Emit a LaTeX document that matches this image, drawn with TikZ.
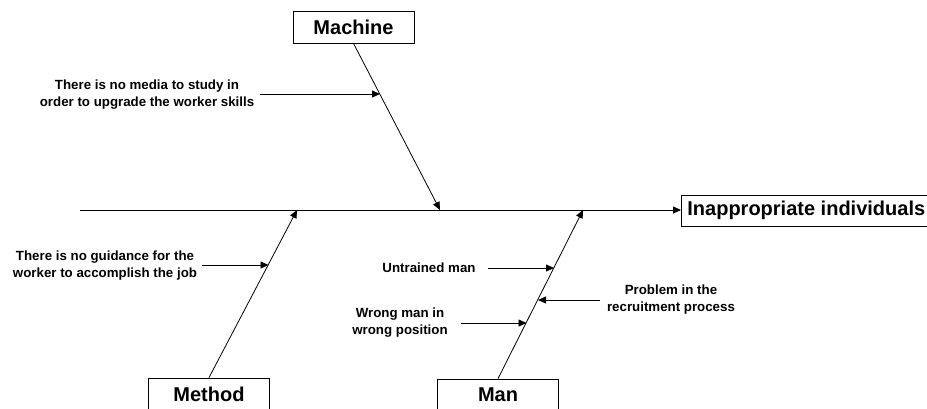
\documentclass[tikz,border=0pt]{standalone}
\usepackage{fontspec}
\setmainfont{Liberation Sans}
\usetikzlibrary{arrows.meta}
\begin{document}
\begin{tikzpicture}[x=1pt,y=-1pt,
  arr/.style={line width=0.8pt,-{Triangle[length=8pt,width=7pt]}},
  catbox/.style={draw,line width=0.8pt,minimum width=121pt,minimum height=32pt,inner sep=0pt,
    font=\fontsize{20}{24}\selectfont\bfseries},
  cause/.style={align=center,inner sep=0pt,font=\fontsize{13.3}{17}\selectfont\bfseries}]
\useasboundingbox (0,0) rectangle (927,408);
\begin{scope}
\clip (0,0) rectangle (927,408);
% effect and spine
\node[draw,line width=0.8pt,anchor=west,minimum height=31pt,inner xsep=6pt,inner ysep=0pt,
  font=\fontsize{20}{24}\selectfont\bfseries] (eff) at (681,210.5) {Inappropriate individuals};
\coordinate (tail) at (80,210);
\draw[arr] (tail) -- (eff.west|-tail);
% categories
\node[catbox] (mach) at (353.5,27) {Machine};
\node[catbox] (meth) at (209,394) {Method};
\node[catbox] (man) at (498,395) {Man};
\coordinate (jmach) at (440,210);
\coordinate (jmeth) at (297,210);
\coordinate (jman) at (583,210);
\draw[arr] (mach.south) -- (jmach);
\draw[arr] (meth.north) -- (jmeth);
\draw[arr] (man.north) -- (jman);
% causes
\node[cause] (c1) at (147,94.5) {There is no media to study in\\order to upgrade the worker skills};
\coordinate (s1) at (260,94);
\coordinate (e1) at (380,94);
\draw[arr] (s1) -- (e1);
\node[cause] (c2) at (105,265.5) {There is no guidance for the\\worker to accomplish the job};
\coordinate (s2) at (202,265);
\coordinate (e2) at (268.5,265);
\draw[arr] (s2) -- (e2);
\node[cause] (c3) at (429,268) {Untrained man};
\coordinate (s3) at (488,268);
\coordinate (e3) at (554,268);
\draw[arr] (s3) -- (e3);
\node[cause] (c4) at (671,300) {Problem in the\\recruitment process};
\coordinate (s4) at (600,300);
\coordinate (e4) at (538,300);
\draw[arr] (s4) -- (e4);
\node[cause] (c5) at (400,322.5) {Wrong man in\\wrong position};
\coordinate (s5) at (461,323);
\coordinate (e5) at (526.5,323);
\draw[arr] (s5) -- (e5);
\end{scope}
\end{tikzpicture}
\end{document}
